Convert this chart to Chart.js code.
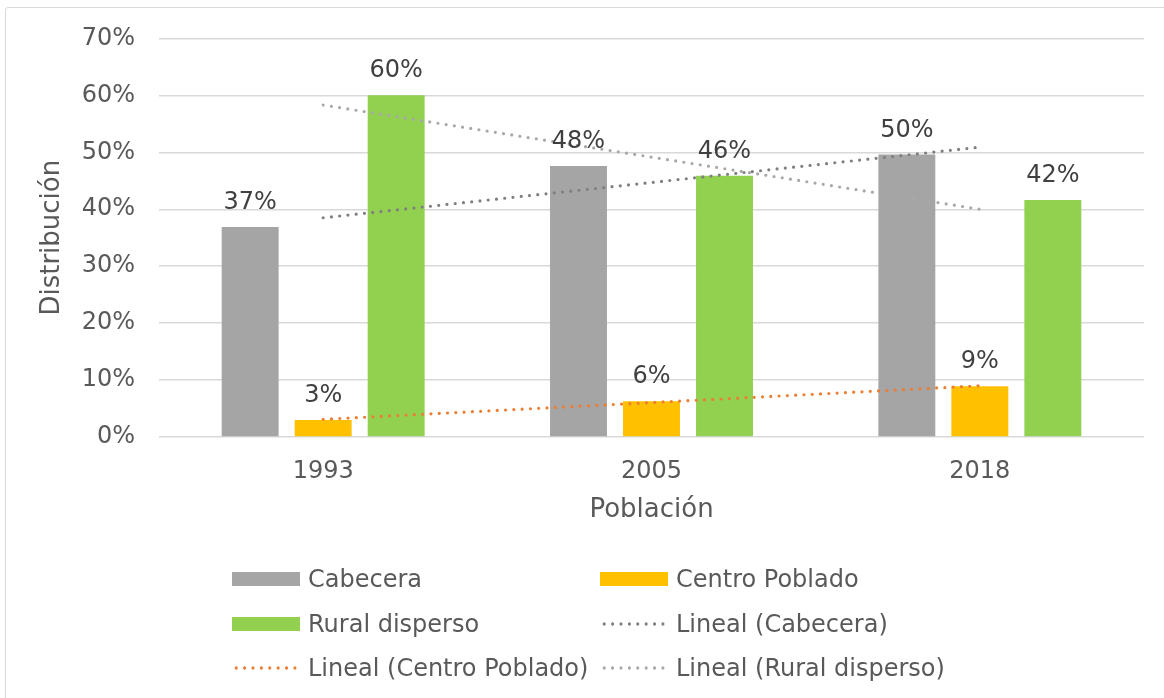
<!DOCTYPE html>
<html>
<head>
<meta charset="utf-8">
<script src="https://cdn.jsdelivr.net/npm/chart.js@4.4.0/dist/chart.umd.min.js"></script>
<style>
    html, body { margin: 0; padding: 0; background: #fff; overflow: hidden; }
    #wrap { position: relative; width: 1164px; height: 698px; overflow: hidden; }
    #frame { position: absolute; left: 5px; top: 7px; width: 1200px; height: 720px; border: 1.5px solid #d9d9d9; border-radius: 3px; }
    #chart { position: absolute; left: 0; top: 0; }
    .leg { position: absolute; height: 30px; display: flex; align-items: center; font-family: "DejaVu Sans", Verdana, sans-serif; font-size: 24px; color: #595959; white-space: nowrap; }
    .sym { width: 68px; height: 14px; margin-right: 8px; }
    .dots { width: 68px; height: 4px; margin-right: 8px; background-size: 8.4px 4px; background-repeat: repeat-x; }
</style>
</head>
<body>
<div id="wrap">
    <div id="frame"></div>
    <canvas id="chart" width="1164" height="698"></canvas>
    <div id="legend"></div>
</div>
<script>
// categories and values (percent)
const years = ['1993', '2005', '2018'];
const cabecera = [36.9, 47.6, 49.6];
const centroPoblado = [3.0, 6.3, 8.9];
const ruralDisperso = [60.0, 45.9, 41.6];

// linear trend lines (start / end)
const trendCabecera = [38.5, null, 50.9];
const trendCentro = [3.1, null, 9.0];
const trendRural = [58.3, null, 40.0];

const yTicks = ['0%', '10%', '20%', '30%', '40%', '50%', '60%', '70%'];

const FONT = '"DejaVu Sans", Verdana, sans-serif';

const barLabels = {
    id: 'barLabels',
    afterDatasetsDraw(chart) {
        const ctx = chart.ctx;
        ctx.save();
        ctx.font = '24px ' + FONT;
        ctx.fillStyle = '#404040';
        ctx.textAlign = 'center';
        ctx.textBaseline = 'alphabetic';
        chart.data.datasets.forEach((ds, i) => {
            if (ds.type !== 'bar') return;
            chart.getDatasetMeta(i).data.forEach((bar, j) => {
                ctx.fillText(Math.round(ds.data[j]) + '%', bar.x, bar.y - 18);
            });
        });
        ctx.restore();
    }
};

function trend(label, data, color) {
    return {
        type: 'line', label: label, data: data, order: 0,
        borderColor: color, borderWidth: 3.2,
        borderDash: [0, 8.3], borderCapStyle: 'round',
        pointRadius: 0, spanGaps: true, fill: false, tension: 0
    };
}

function bars(label, data, color) {
    return {
        type: 'bar', label: label, data: data, order: 1,
        backgroundColor: color, borderWidth: 0,
        barPercentage: 0.78, categoryPercentage: 0.667
    };
}

new Chart(document.getElementById('chart'), {
    data: {
        labels: years,
        datasets: [
            bars('Cabecera', cabecera, '#A5A5A5'),
            bars('Centro Poblado', centroPoblado, '#FFC000'),
            bars('Rural disperso', ruralDisperso, '#92D050'),
            trend('Lineal (Cabecera)', trendCabecera, '#7F7F7F'),
            trend('Lineal (Centro Poblado)', trendCentro, '#ED7D31'),
            trend('Lineal (Rural disperso)', trendRural, '#A8A8A8')
        ]
    },
    options: {
        responsive: false,
        animation: false,
        layout: { padding: { left: 0, top: 36, right: 20, bottom: 172.4 } },
        plugins: { legend: { display: false }, tooltip: { enabled: false } },
        scales: {
            x: {
                grid: { display: false },
                border: { display: false },
                ticks: { color: '#595959', font: { family: FONT, size: 24 }, padding: 12 },
                title: { display: true, text: 'Población', color: '#595959', font: { family: FONT, size: 26 }, padding: { top: 0, bottom: 0 } },
                afterFit(scale) { scale.height = 88.6; }
            },
            y: {
                min: 0, max: 70,
                grid: { color: '#d9d9d9', lineWidth: 1.4, drawTicks: false },
                border: { display: false },
                ticks: {
                    stepSize: 10, padding: 24, color: '#595959',
                    font: { family: FONT, size: 24 },
                    callback: (v) => yTicks[v / 10]
                },
                title: { display: true, text: 'Distribución', color: '#595959', font: { family: FONT, size: 26 }, padding: { top: 37, bottom: 0 } },
                afterFit(scale) { scale.width = 159; }
            }
        }
    },
    plugins: [barLabels]
});

// legend, two columns
const legendItems = [
    { text: 'Cabecera', color: '#A5A5A5', dotted: false, x: 232, y: 579 },
    { text: 'Centro Poblado', color: '#FFC000', dotted: false, x: 600, y: 579 },
    { text: 'Rural disperso', color: '#92D050', dotted: false, x: 232, y: 624 },
    { text: 'Lineal (Cabecera)', color: '#7F7F7F', dotted: true, x: 600, y: 624 },
    { text: 'Lineal (Centro Poblado)', color: '#ED7D31', dotted: true, x: 232, y: 668 },
    { text: 'Lineal (Rural disperso)', color: '#A8A8A8', dotted: true, x: 600, y: 668 }
];

const legend = document.getElementById('legend');
legend.innerHTML = legendItems.map(it => {
    const sym = it.dotted
        ? `<span class="dots" style="background-image: radial-gradient(circle, ${it.color} 1.4px, transparent 1.9px);"></span>`
        : `<span class="sym" style="background:${it.color}"></span>`;
    return `<div class="leg" style="left:${it.x}px; top:${it.y - 15}px">${sym}<span>${it.text}</span></div>`;
}).join('');
</script>
</body>
</html>
